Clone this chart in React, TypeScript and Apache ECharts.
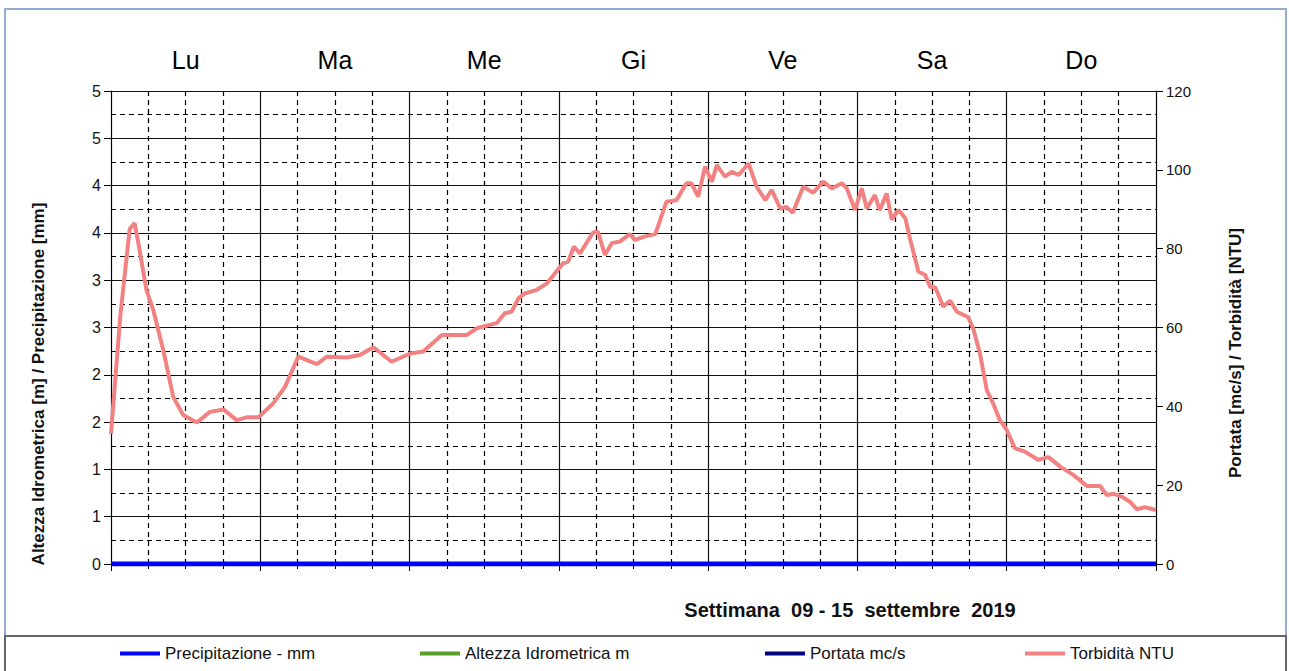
import React, { useEffect, useRef } from "react";
import * as echarts from "echarts";

// Days of the week (top labels)
const days = ["Lu", "Ma", "Me", "Gi", "Ve", "Sa", "Do"];

// Hours since Monday 00:00 for the turbidity readings
const torbHours = [
  0, 1.5, 3.0, 3.8, 4.4, 5.7, 6.8, 8.4, 10, 11.6, 13.8, 15.9, 18.1, 20.2, 21.8, 23.7,
  26.1, 28, 30.1, 33.1, 34.7, 37.9, 40, 42.2, 45.1, 48.1, 50.2, 53.2, 57.2, 58.8, 60.7,
  62, 63.3, 64.4, 65.5, 66.6, 68.4, 70.1, 71.6, 72.7, 73.5, 74.4, 75.4, 77.5, 78.3,
  79.4, 80.5, 81.8, 83.4, 84.2, 85.6, 87.5, 89.3, 90.9, 92.5, 93.3, 94.4, 95.5, 96.6,
  97.4, 98.7, 99.8, 100.9, 102.5, 103.8, 105.2, 106.2, 107.6, 108.6, 109.6, 111.3,
  112.9, 114.5, 115.9, 117.5, 118.3, 119.6, 120.7, 121.5, 122.8, 123.6, 124.7, 125.5,
  126.6, 127.7, 128.5, 129.8, 130.9, 131.7, 132.5, 133.8, 134.9, 136, 137.8, 138.6,
  139.7, 140.8, 141.8, 142.9, 144, 145.3, 146.9, 149.1, 150.7, 152.6, 154.7, 156.9,
  159, 160.1, 161.2, 162.5, 163.8, 164.9, 166.2, 168,
];
// Torbidità NTU values
const torbValues = [
  33, 63, 85, 86.5, 81.4, 69.5, 64.4, 54.3, 42.4, 37.8, 35.9, 38.6, 39.2, 36.5, 37.2, 37.2,
  40.8, 45, 52.6, 50.7, 52.6, 52.4, 53, 55, 51.3, 53.4, 53.9, 58.1, 58.1, 59.8, 60.6,
  61.1, 63.6, 64, 67.4, 68.7, 69.5, 71.2, 74.2, 76.3, 76.7, 80.5, 78.8, 84.1, 84.3,
  78.4, 81.4, 81.8, 83.7, 82.2, 83, 83.7, 91.9, 92.3, 96.6, 96.6, 93.2, 100.8, 97,
  101.2, 98.3, 99.5, 98.7, 101.6, 95.7, 92.3, 94.9, 90.2, 90.6, 89.1, 95.7,
  94.2, 97, 95.3, 96.6, 95.3, 89.8, 95.3, 90.2, 93.6, 89.8, 94, 87.4,
  89.8, 87.7, 82.2, 74.2, 73.3, 70.3, 70.2, 65.3, 66.8, 64, 62.6, 59.8,
  53.4, 44.1, 40.8, 36.5, 34, 29.4, 28.5, 26.4, 27.1, 24.7, 22.6, 19.8,
  19.8, 17.5, 17.8, 17.1, 15.8, 13.9, 14.4, 13.7,
];

// Flat series (all zero during the week)
const flatHours = [0, 168];
const precipitazione = [0, 0];
const altezza = [0, 0];
const portata = [0, 0];

const legendNames = ["Precipitazione - mm", "Altezza Idrometrica m", "Portata mc/s", "Torbidità NTU"];
const seriesColors = ["#0000ff", "#5a9e2a", "#00007f", "#f28282"];

const zip = (xs: number[], ys: number[]) => xs.map((x, i) => [x, ys[i]]);

export default function App() {
  const ref = useRef<HTMLDivElement>(null);
  useEffect(() => {
    document.body.style.margin = "0";
    const chart = echarts.init(ref.current!, null, { renderer: "svg" });
    const font = "Arial, 'Liberation Sans', sans-serif";
    const gridLine = "#111";
    const legendLefts = [120, 420, 765, 1025];
    chart.setOption({
      animation: false,
      backgroundColor: "#fff",
      textStyle: { fontFamily: font },
      grid: { left: 111, right: 133, top: 91, bottom: 107 },
      legend: legendNames.map((n, i) => ({
        data: [n],
        left: legendLefts[i],
        top: 645,
        padding: 0,
        icon: "rect",
        itemWidth: 40,
        itemHeight: 4,
        itemGap: 5,
        textStyle: { fontSize: 17, color: "#111", fontFamily: font },
      })),
      xAxis: [
        {
          type: "value",
          min: 0,
          max: 168,
          interval: 24,
          position: "bottom",
          axisLine: { show: true, lineStyle: { color: "#000" } },
          axisTick: { show: true, length: 7, lineStyle: { color: "#000" } },
          minorTick: { show: true, splitNumber: 4, length: 5, lineStyle: { color: "#000" } },
          axisLabel: { show: false },
          splitLine: { show: true, lineStyle: { color: gridLine, width: 1.2 } },
          minorSplitLine: { show: true, lineStyle: { color: "#000", type: [5, 4], width: 1.2 } },
        },
        {
          type: "category",
          data: days,
          position: "top",
          boundaryGap: true,
          axisLine: { show: false },
          axisTick: { show: false },
          splitLine: { show: false },
          axisLabel: { fontSize: 25, color: "#000", margin: 19, fontFamily: font },
        },
      ],
      yAxis: [
        {
          type: "value",
          min: 0,
          max: 5,
          interval: 0.5,
          position: "left",
          axisLine: { show: true, lineStyle: { color: "#000" } },
          axisTick: { show: true, length: 7, lineStyle: { color: "#000" } },
          minorTick: { show: false, splitNumber: 2 },
          axisLabel: {
            fontSize: 16,
            color: "#111",
            margin: 10,
            formatter: (v: number) => String(Math.round(v)),
          },
          splitLine: { show: true, lineStyle: { color: gridLine, width: 1.2 } },
          minorSplitLine: { show: true, lineStyle: { color: "#000", type: [5, 4], width: 1.2 } },
        },
        {
          type: "value",
          min: 0,
          max: 120,
          interval: 20,
          position: "right",
          axisLine: { show: true, lineStyle: { color: "#000" } },
          axisTick: { show: true, length: 7, lineStyle: { color: "#000" } },
          axisLabel: { fontSize: 15, color: "#111", margin: 10 },
          splitLine: { show: false },
        },
      ],
      series: [
        {
          name: legendNames[1],
          type: "line",
          yAxisIndex: 0,
          data: zip(flatHours, altezza),
          showSymbol: false,
          lineStyle: { color: seriesColors[1], width: 4 },
          itemStyle: { color: seriesColors[1] },
        },
        {
          name: legendNames[2],
          type: "line",
          yAxisIndex: 1,
          data: zip(flatHours, portata),
          showSymbol: false,
          lineStyle: { color: seriesColors[2], width: 4 },
          itemStyle: { color: seriesColors[2] },
        },
        {
          name: legendNames[3],
          type: "line",
          yAxisIndex: 1,
          data: zip(torbHours, torbValues),
          showSymbol: false,
          lineStyle: { color: seriesColors[3], width: 4 },
          itemStyle: { color: seriesColors[3] },
        },
        {
          name: legendNames[0],
          type: "line",
          yAxisIndex: 0,
          data: zip(flatHours, precipitazione),
          showSymbol: false,
          lineStyle: { color: seriesColors[0], width: 5 },
          itemStyle: { color: seriesColors[0] },
          z: 5,
        },
      ],
      graphic: [
        {
          type: "rect",
          shape: { x: 5, y: 9, width: 1281, height: 627 },
          style: { fill: "none", stroke: "#93acd0", lineWidth: 2 },
          silent: true,
        },
        {
          type: "rect",
          shape: { x: 5, y: 636, width: 1281, height: 60 },
          style: { fill: "none", stroke: "#666", lineWidth: 2 },
          silent: true,
        },
        {
          type: "text",
          x: 38,
          y: 384,
          rotation: Math.PI / 2,
          style: {
            text: "Altezza Idrometrica [m] / Precipitazione [mm]",
            font: `bold 17px ${font}`,
            fill: "#111",
            textAlign: "center",
            textVerticalAlign: "middle",
          },
        },
        {
          type: "text",
          x: 1235,
          y: 353,
          rotation: Math.PI / 2,
          style: {
            text: "Portata [mc/s] / Torbidità [NTU]",
            font: `bold 17px ${font}`,
            fill: "#111",
            textAlign: "center",
            textVerticalAlign: "middle",
          },
        },
        {
          type: "text",
          x: 850,
          y: 610,
          style: {
            text: "Settimana\u00A0 09 - 15\u00A0 settembre\u00A0 2019",
            font: `bold 20px ${font}`,
            fill: "#111",
            textAlign: "center",
            textVerticalAlign: "middle",
          },
        },
      ],
    });
    return () => chart.dispose();
  }, []);
  return (
    <div
      ref={ref}
      style={{ position: "absolute", left: 0, top: 0, width: 1289, height: 671 }}
    />
  );
}
